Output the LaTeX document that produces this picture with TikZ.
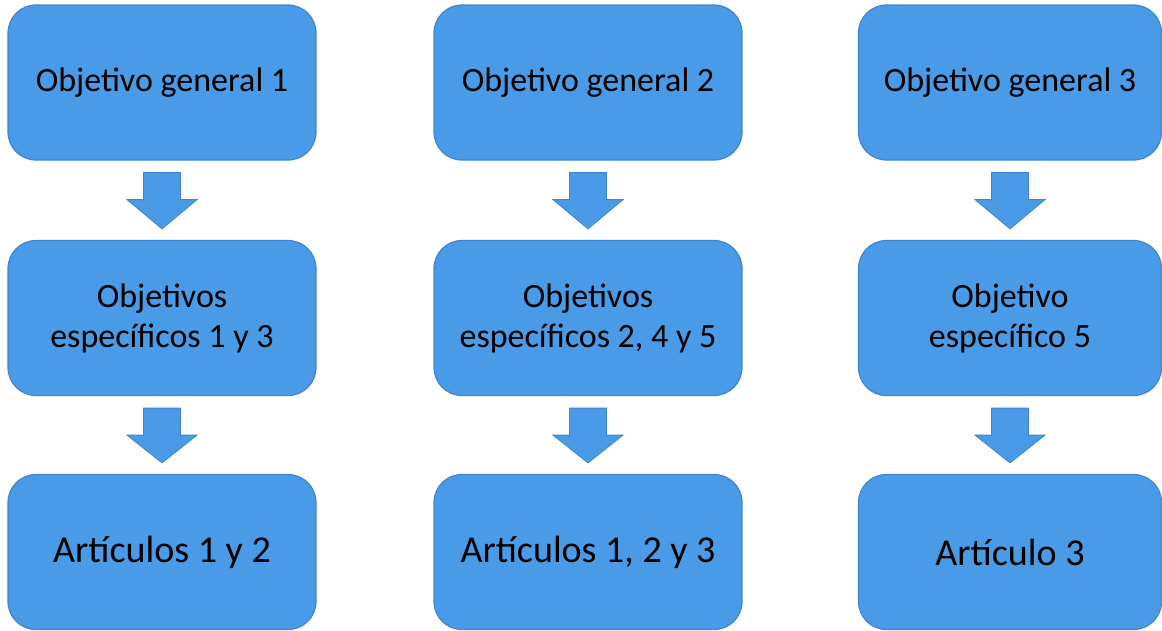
\documentclass[tikz,border=0pt]{standalone}
\usepackage{fontspec}
\setmainfont{Carlito}
\usetikzlibrary{calc}
\definecolor{boxfill}{HTML}{4A9BE7}
\definecolor{boxline}{HTML}{3F86CE}
\newcommand\myarrow[2]{%
  \filldraw[arrowshape] ($(#1.south)+(-18.5,12)$) -- ($(#1.south)+(18.5,12)$) --
    ($(#1.south)+(18.5,39)$) -- ($(#1.south)+(35,39)$) -- ($(#2.north)+(0,-11)$) --
    ($(#1.south)+(-35,39)$) -- ($(#1.south)+(-18.5,39)$) -- cycle;}
\begin{document}
\begin{tikzpicture}[x=1pt,y=-1pt,
  box/.style={draw=boxline, fill=boxfill, rounded corners=28pt, line width=1.2pt,
    minimum width=308pt, minimum height=155pt, inner sep=0pt, align=center,
    font=\fontsize{34}{40}\selectfont},
  boxlast/.style={box, minimum width=303pt},
  bigtext/.style={font=\fontsize{38}{44}\selectfont},
  arrowshape/.style={draw=boxline, fill=boxfill, line width=0.8pt, line join=miter}]
\useasboundingbox (0,0) rectangle (1162,630);
% column 1
\node[box] (g1) at (162,82.5) {Objetivo general 1};
\node[box] (s1) at (162,318) {Objetivos\\específicos 1 y 3};
\node[box,bigtext] (a1) at (162,552) {Artículos 1 y 2};
% column 2
\node[box] (g2) at (588,82.5) {Objetivo general 2};
\node[box] (s2) at (588,318) {Objetivos\\específicos 2, 4 y 5};
\node[box,bigtext] (a2) at (588,552) {Artículos 1, 2 y 3};
% column 3
\node[boxlast] (g3) at (1010,82.5) {Objetivo general 3};
\node[boxlast] (s3) at (1010,318) {Objetivo\\específico 5};
\node[boxlast,bigtext] (a3) at (1010,552) {Artículo 3};
% arrows
\myarrow{g1}{s1}
\myarrow{s1}{a1}
\myarrow{g2}{s2}
\myarrow{s2}{a2}
\myarrow{g3}{s3}
\myarrow{s3}{a3}
\end{tikzpicture}
\end{document}
